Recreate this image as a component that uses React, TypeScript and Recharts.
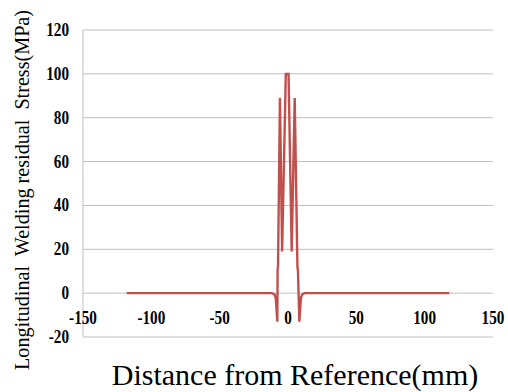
import { LineChart, Line, XAxis, YAxis, CartesianGrid } from "recharts"

const distance = [-118, -12, -10, -9, -7.8, -7.6, -7.3, -5.9, -4.3, -1.6, 0.4, 2.7, 4.9, 6.9, 7.3, 8.3, 9.5, 10.5, 12, 118]
const stress = [0, 0, -0.5, -2, -13, 11, 12, 89, 19, 100, 100, 19, 89, 12, 10, -13, -2, -0.5, 0, 0]

const xTicks = [-150, -100, -50, 0, 50, 100, 150]
const yTicks = [-20, 0, 20, 40, 60, 80, 100, 120]

const data = distance.map((d, i) => ({ distance: d, stress: stress[i] }))

const serif = "'Liberation Serif', 'Times New Roman', serif"

const XTick = (props: any) => {
  const { x, y, payload } = props
  return (
    <g transform={`translate(${x},${y - 21}) scale(0.8,1)`}>
      <text x={0} y={0} textAnchor="middle" fontFamily={serif} fontWeight="bold" fontSize={19} fill="#000">
        {payload.value}
      </text>
    </g>
  )
}

const YTick = (props: any) => {
  const { x, y, payload } = props
  return (
    <g transform={`translate(${x},${y + 6}) scale(0.8,1)`}>
      <text x={0} y={0} textAnchor="end" fontFamily={serif} fontWeight="bold" fontSize={19} fill="#000">
        {payload.value}
      </text>
    </g>
  )
}

const YTitle = () => (
  <text
    x={0}
    y={0}
    transform="translate(29,190) rotate(-90) scale(1,1.15)"
    textAnchor="middle"
    fontFamily={serif}
    fontSize={19}
    textLength={360}
    lengthAdjust="spacingAndGlyphs"
    fill="#000"
    style={{ whiteSpace: "pre" }}
  >
    {"Longitudinal  Welding residual  Stress(MPa)"}
  </text>
)

export default function App() {
  return (
    <div style={{ position: "absolute", left: 0, top: 0, background: "#fff" }}>
      <LineChart width={508} height={392} data={data} margin={{ top: 30, right: 15, bottom: 0, left: 0 }}>
        <CartesianGrid vertical={false} stroke="#bfbfbf" />
        <XAxis
          dataKey="distance"
          type="number"
          domain={[-150, 150]}
          ticks={xTicks}
          axisLine={false}
          tickLine={false}
          tick={<XTick />}
          height={55}
          label={{ value: "Distance from Reference(mm)", position: "insideBottom", offset: 7, dx: 7, fontFamily: serif, fontSize: 30, fill: "#000" }}
        />
        <YAxis
          type="number"
          domain={[-20, 120]}
          ticks={yTicks}
          width={83}
          stroke="#bfbfbf"
          tickLine={false}
          tick={<YTick />}
          tickMargin={8}
          label={{ content: <YTitle /> }}
        />
        <Line
          dataKey="stress"
          type="linear"
          stroke="#C0504D"
          strokeWidth={2.4}
          dot={false}
          isAnimationActive={false}
        />
      </LineChart>
    </div>
  )
}
